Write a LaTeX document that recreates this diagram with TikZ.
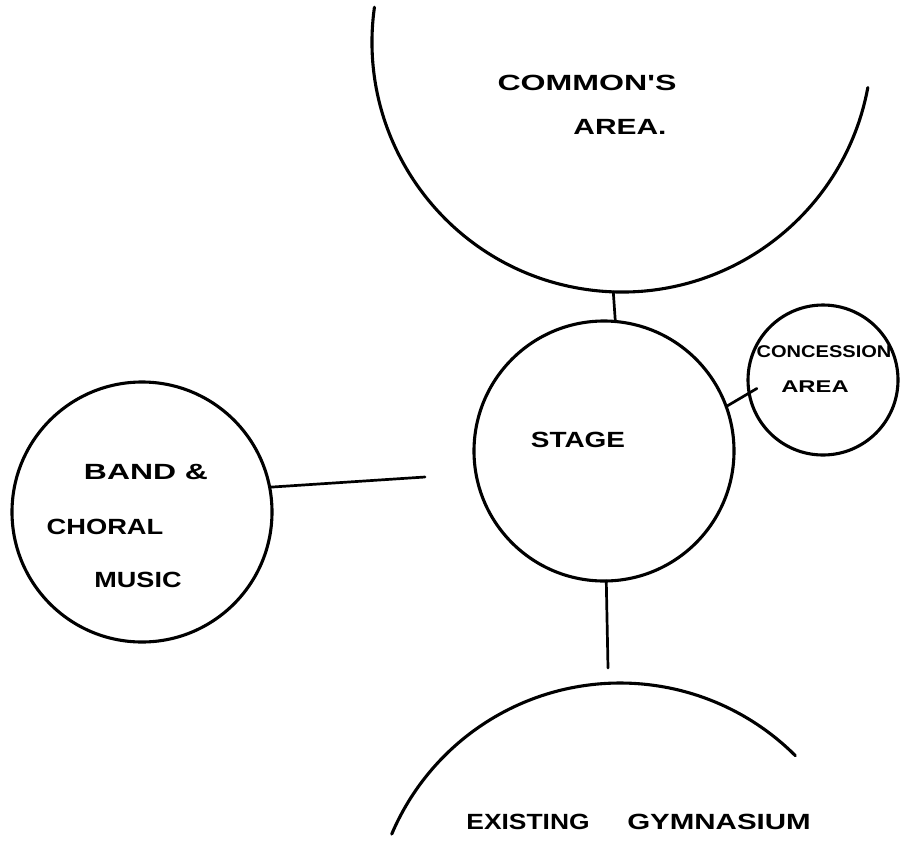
\documentclass[tikz,border=0pt]{standalone}
\usepackage{fontspec}
\newfontfamily\handfont{Liberation Sans}
% widen a label horizontally, like hand lettering
\newcommand\stretchx[2]{\scalebox{#1}[1]{#2}}

\begin{document}
\begin{tikzpicture}[x=1pt, y=-1pt,
  outline/.style={line width=3.1pt, line cap=round},
  area/.style={circle, draw, line width=3.1pt, inner sep=0pt, outer sep=0pt},
  zone/.style={circle, inner sep=0pt, outer sep=0pt},
  link/.style={line width=2.7pt, line cap=round},
  hand/.style={font=\handfont\bfseries\fontsize{22}{24}\selectfont, inner sep=0pt},
  handsmall/.style={font=\handfont\bfseries\fontsize{17}{19}\selectfont, inner sep=0pt}]
\useasboundingbox (0,0) rectangle (904,849);
\fill[white] (0,0) rectangle (904,849);

% large rooms, only partly drawn
\node[zone, minimum size=500pt] (common) at (622,42) {};
\draw[outline] (common.172) arc[start angle=172, end angle=349.5, radius=250pt];
\node[zone, minimum size=496pt] (gym) at (620,931) {};
\draw[outline] (gym.157) arc[start angle=157, end angle=45, radius=248pt];

% complete rooms
\node[area, minimum size=260pt] (stage) at (604,451) {};
\node[area, minimum size=150pt] (conc) at (823,380) {};
\node[area, minimum size=260pt] (band) at (142,512) {};

% room names
\node[hand] (commonA) at (587,83) {\stretchx{1.46}{COMMON'S}};
\node[hand] (commonB) at (620,127) {\stretchx{1.36}{AREA.}};
\node[hand] (stageT) at (578,440) {\stretchx{1.27}{STAGE}};
\node[handsmall] (concA) at (824,352) {\stretchx{1.18}{CONCESSION}};
\node[handsmall] (concB) at (815,387) {\stretchx{1.4}{AREA}};
\node[hand] (bandA) at (146,472) {\stretchx{1.45}{BAND \&}};
\node[hand] (bandB) at (105,527) {\stretchx{1.24}{CHORAL}};
\node[hand] (bandC) at (138,580) {\stretchx{1.23}{MUSIC}};
\node[hand] (gymA) at (528,822) {\stretchx{1.2}{EXISTING}};
\node[hand] (gymB) at (719,822) {\stretchx{1.34}{GYMNASIUM}};

% links between rooms
\coordinate (bandtip) at (425,477);
\coordinate (gymtip) at (608,668);
\draw[link] (common.268) -- (stage.85);
\draw[link, shorten >=-9pt] (stage.20) -- (conc.190);
\draw[link] (band.11) -- (bandtip);
\draw[link] (stage.-89) -- (gymtip);
\end{tikzpicture}
\end{document}
